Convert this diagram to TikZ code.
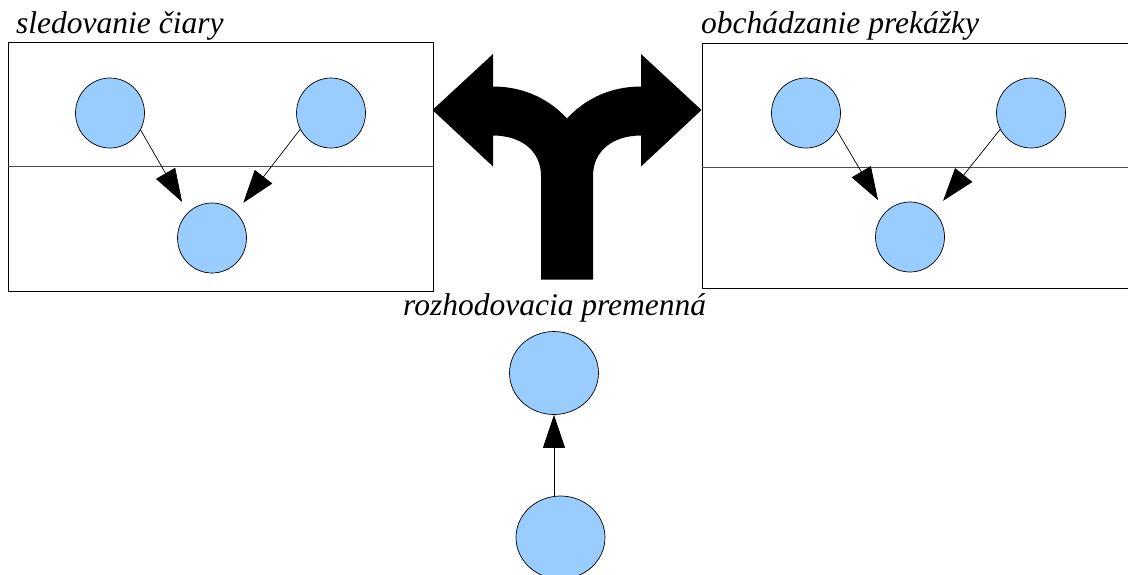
\documentclass[tikz,border=0pt]{standalone}
\usepackage{fontspec}
\newfontfamily\captionfont{Liberation Serif Italic}
\usetikzlibrary{shapes.geometric,arrows.meta,calc}
\definecolor{nodeblue}{HTML}{99CCFF}
\tikzset{
  var/.style={ellipse,draw=black,line width=0.7pt,fill=nodeblue,inner sep=0pt,
              minimum width=69pt,minimum height=70pt},
  bigvar/.style={var,minimum width=89pt,minimum height=83pt},
  frame/.style={draw=black,line width=0.9pt},
  divider/.style={draw=black!70,line width=0.9pt},
  link/.style={draw=black,line width=0.7pt,-{Triangle[length=33pt,width=22pt]}},
  caption/.style={anchor=base west,inner sep=0pt,font=\captionfont\fontsize{31.5}{31.5}\selectfont}
}
\begin{document}
\begin{tikzpicture}[x=1pt,y=-1pt]
\useasboundingbox (0,0) rectangle (1128,574);
\clip (0,0) rectangle (1128,574);
\fill[white] (0,0) rectangle (1128,574);

% left panel: line following
\draw[frame] (8,42.5) rectangle (433,291);
\draw[divider] (8,166.5) -- (433,166.5);
\node[caption] (tl) at (16,33) {sledovanie čiary};
\node[var] (l1) at (110,113) {};
\node[var] (l2) at (331,113) {};
\node[var] (l3) at (212,238) {};
\draw[link,shorten >=12pt] (l1.-29) -- (l3.133);
\draw[link,shorten >=12pt] (l2.208) -- (l3.47);

% right panel: obstacle avoidance
\draw[frame] (1140,43) -- (702,43) -- (702,288.5) -- (1140,288.5);
\draw[divider] (702,167) -- (1128,167);
\node[caption] (tr) at (701,33) {obchádzanie prekážky};
\node[var] (r1) at (806,113) {};
\node[var] (r2) at (1031,113) {};
\node[var] (r3) at (910,237) {};
\draw[link,shorten >=14pt] (r1.-29) -- (r3.135);
\draw[link,shorten >=14pt] (r2.208) -- (r3.46);

% fork arrow between the panels
\fill[black] (432.5,110) -- (493,54) -- (493,86.5)
  .. controls (525,86.5) and (550,100) .. (567,118.5)
  .. controls (584,100) and (609,86.5) .. (641,86.5)
  -- (641,54) -- (701.5,110) -- (641,166.5) -- (641,135.5)
  .. controls (614,135.5) and (593,150) .. (593,176)
  -- (593,279.5) -- (541,279.5) -- (541,176)
  .. controls (541,150) and (520,135.5) .. (493,135.5)
  -- (493,166.5) -- cycle;

% decision variable
\node[caption] (tb) at (403,315) {rozhodovacia premenná};
\node[bigvar] (d1) at (554,373) {};
\node[bigvar] (d2) at (560.5,537.5) {};
\draw[link] (d2.north -| d1.south) -- (d1.south);
\end{tikzpicture}
\end{document}
